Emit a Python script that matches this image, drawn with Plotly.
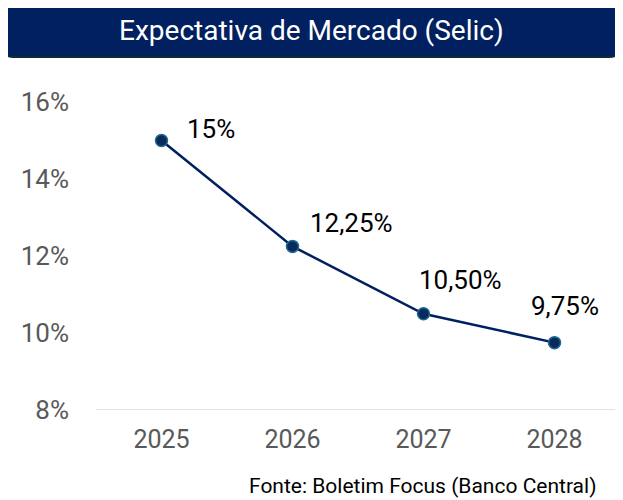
import plotly.graph_objects as go

# Selic market expectations (Boletim Focus)
years = ["2025", "2026", "2027", "2028"]
selic = [15.0, 12.25, 10.5, 9.75]
labels = ["15%", "12,25%", "10,50%", "9,75%"]
y_ticks = [8, 10, 12, 14, 16]

NAVY = "#002060"
FONT = "Roboto"
PAGE = 8  # page body margin, compensate so the chart sits at the top-left

# label offsets in px (x, y) relative to each point
offsets = [(49, 12), (59, 23), (37, 34), (10, 37)]

fig = go.Figure()
fig.add_trace(go.Scatter(
    x=years, y=selic, mode="lines+markers",
    line=dict(color=NAVY, width=2.5),
    marker=dict(size=12, color="#0A2A5E", line=dict(color="#1F6A8E", width=1.5)),
    hoverinfo="skip", showlegend=False,
))

# on a category axis annotations use the category index
for i, (val, lab, (dx, dy)) in enumerate(zip(selic, labels, offsets)):
    fig.add_annotation(x=i, y=val, text=lab, showarrow=False,
                       xshift=dx, yshift=dy, yanchor="middle",
                       font=dict(family=FONT, size=26, color="#000000"))

# title box (rounded rectangle), paper coords
x0, x1, y0, y1 = -0.1756, 0.998, 1.1461, 1.3214
rx, ry = 0.018, 0.03
path = (f"M {x0+rx},{y0} L {x1-rx},{y0} Q {x1},{y0} {x1},{y0+ry} "
        f"L {x1},{y1-ry} Q {x1},{y1} {x1-rx},{y1} L {x0+rx},{y1} "
        f"Q {x0},{y1} {x0},{y1-ry} L {x0},{y0+ry} Q {x0},{y0} {x0+rx},{y0} Z")
fig.add_shape(type="path", path=path, xref="paper", yref="paper",
              fillcolor=NAVY, line=dict(color="#0E2A3C", width=2), layer="above")
fig.add_annotation(x=(x0 + x1) / 2, y=(y0 + y1) / 2, xref="paper", yref="paper",
                   xanchor="center", yanchor="middle",
                   text="Expectativa de Mercado (Selic)", showarrow=False,
                   font=dict(family=FONT, size=28, color="white"))

fig.add_annotation(x=0.958, y=-0.247, xref="paper", yref="paper",
                   xanchor="right", yanchor="middle", showarrow=False,
                   text="Fonte: Boletim Focus (Banco Central)",
                   font=dict(family=FONT, size=21, color="#000000"))

fig.update_layout(
    width=623, height=500,
    margin=dict(l=96 - PAGE, r=3 + PAGE, t=102 - PAGE, b=90 + PAGE, autoexpand=False),
    paper_bgcolor="white", plot_bgcolor="white",
    font=dict(family=FONT),
)
fig.update_xaxes(
    type="category", range=[-0.5, 3.5], showgrid=False, zeroline=False,
    showline=False, ticks="",
    tickfont=dict(family=FONT, size=25, color="#595959"),
    ticklabelstandoff=12,
)
fig.update_yaxes(
    range=[8, 16], tickvals=y_ticks, ticktext=[f"{v}%" for v in y_ticks],
    showgrid=False, zeroline=False, showline=False, ticks="",
    tickfont=dict(family=FONT, size=26, color="#595959"),
    ticklabelstandoff=26,
)
# baseline at 8%
fig.add_shape(type="line", xref="paper", yref="y", x0=0, x1=1, y0=8, y1=8,
              line=dict(color="#D9D9D9", width=1.5), layer="below")

fig.write_html("out.html")
